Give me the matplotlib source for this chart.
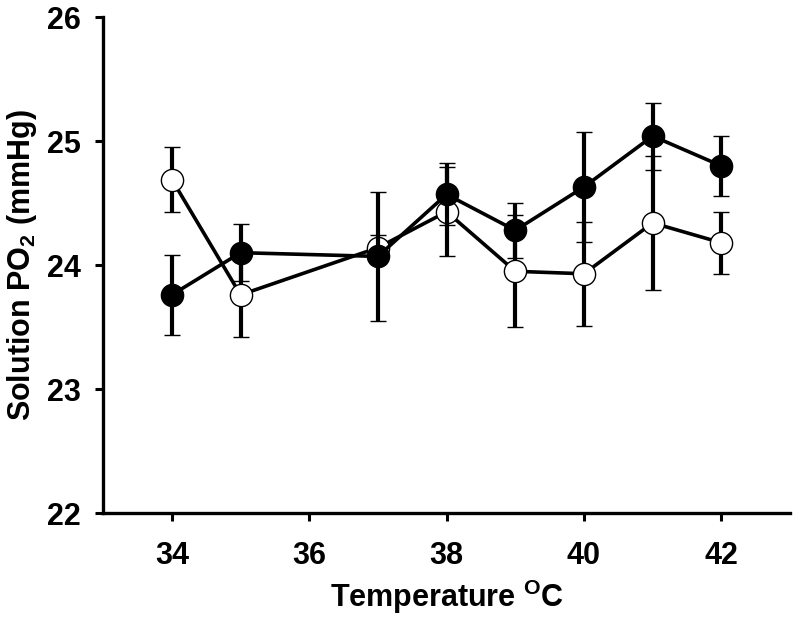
import matplotlib
matplotlib.use("Agg")
import matplotlib.pyplot as plt
from matplotlib import font_manager

# ---- data ----
temps = [34, 35, 37, 38, 39, 40, 41, 42]
filled_vals = [23.76, 24.10, 24.07, 24.57, 24.28, 24.63, 25.04, 24.80]
filled_err = [0.32, 0.23, 0.52, 0.25, 0.22, 0.44, 0.27, 0.24]
open_vals = [24.69, 23.76, 24.14, 24.43, 23.95, 23.93, 24.34, 24.18]
open_err = [0.26, 0.34, 0.10, 0.36, 0.45, 0.42, 0.54, 0.25]
xticks = [34, 36, 38, 40, 42]
yticks = [22, 23, 24, 25, 26]

names = {f.name for f in font_manager.fontManager.ttflist}
fam = "Liberation Sans Narrow" if "Liberation Sans Narrow" in names else "Liberation Sans"
plt.rcParams['font.family'] = [fam, 'DejaVu Sans']
plt.rcParams['font.weight'] = 'bold'
plt.rcParams['mathtext.fontset'] = 'custom'
plt.rcParams['mathtext.rm'] = fam + ':bold'
plt.rcParams['mathtext.it'] = fam + ':bold'
plt.rcParams['mathtext.bf'] = fam + ':bold'

fig = plt.figure(figsize=(8, 6.19), dpi=100)
ax = fig.add_axes([0.129, 0.171, 0.8585, 0.8015])

ax.errorbar(temps, open_vals, yerr=open_err, color='black', lw=2.6,
            elinewidth=3.0, capsize=6, capthick=3.0, marker='o', ms=16,
            mfc='white', mec='black', mew=1.0, zorder=2)
ax.errorbar(temps, filled_vals, yerr=filled_err, color='black', lw=2.6,
            elinewidth=3.0, capsize=6, capthick=3.0, marker='o', ms=16,
            mfc='black', mec='black', mew=1.0, zorder=3)

ax.set_xlim(33, 43)
ax.set_ylim(22, 26)
ax.set_xticks(xticks)
ax.set_yticks(yticks)
for s in ['top', 'right']:
    ax.spines[s].set_visible(False)
for s in ['left', 'bottom']:
    ax.spines[s].set_linewidth(2.4)
ax.tick_params(direction='out', length=6, width=2.2, labelsize=22)
ax.tick_params(axis='x', pad=14)
ax.tick_params(axis='y', pad=10)
for lab in ax.get_xticklabels() + ax.get_yticklabels():
    lab.set_fontweight('bold')

ax.set_xlabel('Temperature $^{\\mathrm{O}}$C', fontsize=22, fontweight='bold', labelpad=5)
ax.set_ylabel('Solution PO$_{2}$ (mmHg)', fontsize=22, fontweight='bold', labelpad=6)

fig.savefig('out.png', dpi=100)
